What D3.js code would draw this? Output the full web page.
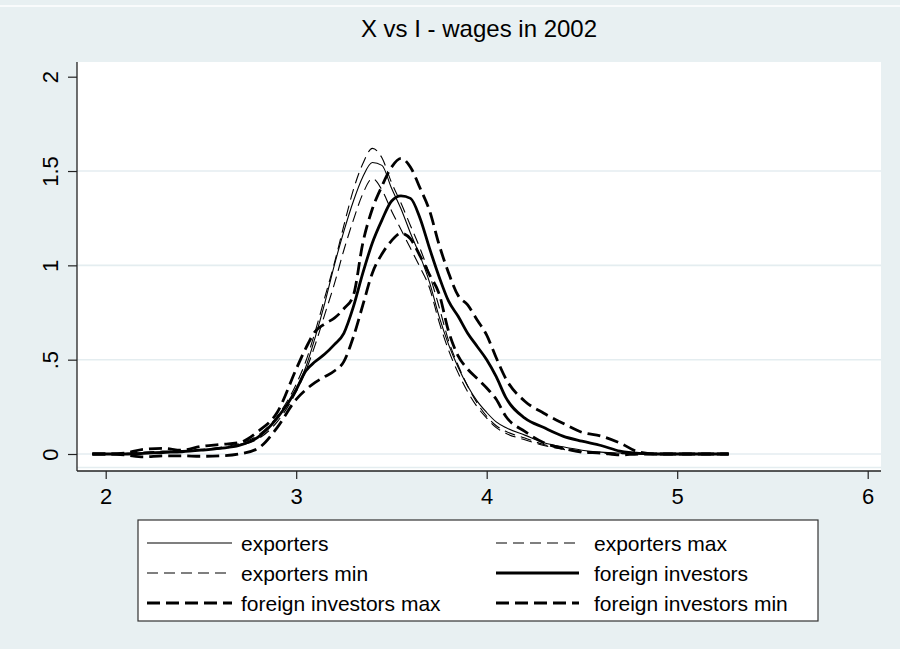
<!DOCTYPE html>
<html><head><meta charset="utf-8">
<script src="https://cdn.jsdelivr.net/npm/d3@7"></script>
<style>
body{margin:0;background:#e8f0f2}
svg{display:block}
text{font-family:Arial,"Liberation Sans",sans-serif;fill:#000}
</style>
</head><body>
<svg id="chart" width="900" height="649"></svg>
<script>
const title = "X vs I - wages in 2002";
const xGrid = [1.93, 2.0, 2.1, 2.2, 2.3, 2.4, 2.5, 2.6, 2.7, 2.8,
  2.9, 3.0, 3.05, 3.1, 3.15, 3.2, 3.25, 3.3, 3.35, 3.4,
  3.45, 3.5, 3.55, 3.6, 3.65, 3.7, 3.75, 3.8, 3.85, 3.9,
  3.95, 4.0, 4.05, 4.1, 4.2, 4.3, 4.4, 4.5, 4.6, 4.7,
  4.8, 4.9, 5.0, 5.1, 5.27];
const exporters = [0, 0, 0.002, 0.008, 0.012, 0.015, 0.022, 0.03, 0.05, 0.09,
  0.19, 0.35, 0.46, 0.62, 0.80, 1.0, 1.18, 1.34, 1.47, 1.545,
  1.53, 1.41, 1.30, 1.17, 1.05, 0.91, 0.73, 0.58, 0.46, 0.36,
  0.28, 0.22, 0.17, 0.14, 0.10, 0.06, 0.038, 0.02, 0.01, 0.005,
  0.002, 0.001, 0, 0, 0];
const exportersMax = [0, 0, 0.003, 0.01, 0.015, 0.018, 0.025, 0.035, 0.055, 0.10,
  0.20, 0.37, 0.49, 0.65, 0.83, 1.01, 1.21, 1.40, 1.54, 1.62,
  1.57, 1.44, 1.33, 1.21, 1.09, 0.95, 0.78, 0.60, 0.47, 0.36,
  0.27, 0.20, 0.15, 0.12, 0.085, 0.05, 0.03, 0.015, 0.008, 0.003,
  0.001, 0, 0, 0, 0];
const exportersMin = [0, 0, 0.002, 0.007, 0.01, 0.013, 0.02, 0.028, 0.045, 0.08,
  0.17, 0.33, 0.44, 0.58, 0.74, 0.90, 1.08, 1.24, 1.38, 1.46,
  1.40, 1.29, 1.19, 1.09, 0.99, 0.88, 0.70, 0.55, 0.43, 0.33,
  0.25, 0.19, 0.14, 0.11, 0.075, 0.045, 0.025, 0.012, 0.005, 0.002,
  0, 0, 0, 0, 0];
const foreignInv = [0, 0, 0, 0.003, 0.008, 0.012, 0.02, 0.03, 0.045, 0.09,
  0.19, 0.34, 0.44, 0.49, 0.53, 0.58, 0.64, 0.78, 0.96, 1.12,
  1.24, 1.34, 1.368, 1.355, 1.25, 1.09, 0.94, 0.81, 0.73, 0.64,
  0.57, 0.50, 0.41, 0.30, 0.19, 0.14, 0.095, 0.068, 0.045, 0.015,
  0.003, 0, 0, 0, 0];
const foreignMax = [0, 0, 0.005, 0.025, 0.03, 0.02, 0.04, 0.05, 0.06, 0.12,
  0.22, 0.45, 0.56, 0.65, 0.69, 0.72, 0.77, 0.84, 1.12, 1.30,
  1.42, 1.52, 1.567, 1.52, 1.41, 1.29, 1.11, 0.96, 0.84, 0.79,
  0.71, 0.63, 0.51, 0.40, 0.28, 0.216, 0.163, 0.115, 0.095, 0.058,
  0.01, 0, 0, 0, 0];
const foreignMin = [0, 0, -0.005, -0.015, -0.01, -0.01, -0.012, -0.01, 0.0, 0.03,
  0.14, 0.29, 0.34, 0.38, 0.41, 0.44, 0.49, 0.62, 0.79, 0.96,
  1.06, 1.13, 1.17, 1.14, 1.05, 0.95, 0.85, 0.65, 0.52, 0.45,
  0.40, 0.35, 0.29, 0.20, 0.12, 0.06, 0.03, 0.01, 0.005, -0.005,
  0, 0, 0, 0, 0];
const seriesNames = ["exporters", "exporters max", "exporters min",
  "foreign investors", "foreign investors max", "foreign investors min"];
const xTicks = [2, 3, 4, 5, 6];
const yTicks = [0, 0.5, 1, 1.5, 2];
const yTickLabels = ["0", ".5", "1", "1.5", "2"];
const gridValues = [0, 0.5, 1, 1.5];

const seriesValues = [exporters, exportersMax, exportersMin, foreignInv, foreignMax, foreignMin];
const styles = [
  {w: 1.1, dash: null},
  {w: 1.1, dash: "11,6"},
  {w: 1.1, dash: "11,6"},
  {w: 2.8, dash: null},
  {w: 2.8, dash: "13,6"},
  {w: 2.8, dash: "13,6"}
];

const svg = d3.select("#chart");
const W = 900, H = 649;
const plot = {l: 77, r: 881, t: 62, b: 471};
const x = d3.scaleLinear().domain([2, 6]).range([105.7, 867.7]);
const y = d3.scaleLinear().domain([0, 2]).range([454, 76.7]);
const bg = "#e8f0f2", grid = "#e4edf0";

svg.append("rect").attr("width", W).attr("height", H).attr("fill", bg);
svg.append("line").attr("x1", 0).attr("x2", W).attr("y1", 6).attr("y2", 6)
  .attr("stroke", "#fff").attr("stroke-width", 1.5);

svg.append("text").attr("x", (plot.l + plot.r) / 2).attr("y", 37)
  .attr("text-anchor", "middle").attr("font-size", 24).text(title);

svg.append("rect").attr("x", plot.l).attr("y", plot.t)
  .attr("width", plot.r - plot.l).attr("height", plot.b - plot.t).attr("fill", "#fff");

svg.append("g").selectAll("line").data(gridValues).join("line")
  .attr("x1", plot.l).attr("x2", plot.r)
  .attr("y1", d => y(d)).attr("y2", d => y(d))
  .attr("stroke", grid).attr("stroke-width", 1.6);
svg.append("line").attr("x1", plot.l).attr("x2", plot.r).attr("y1", 467.5).attr("y2", 467.5)
  .attr("stroke", grid).attr("stroke-width", 1.6);

// curves
const line = d3.line().x(d => x(d[0])).y(d => y(d[1])).curve(d3.curveMonotoneX);
const gC = svg.append("g");
seriesValues.forEach((vals, i) => {
  const pts = xGrid.map((xv, j) => [xv, vals[j]]);
  gC.append("path").attr("d", line(pts)).attr("fill", "none")
    .attr("stroke", "#000").attr("stroke-width", styles[i].w)
    .attr("stroke-dasharray", styles[i].dash)
    .attr("stroke-linejoin", "round");
});

// axes
const yAxis = d3.axisLeft(y).tickValues(yTicks).tickSize(9).tickSizeOuter(0)
  .tickFormat((d, i) => yTickLabels[i]);
const gy = svg.append("g").attr("transform", `translate(${plot.l},0)`).call(yAxis);
gy.select(".domain").remove();
gy.selectAll(".tick line").attr("stroke", "#222").attr("stroke-width", 1.2);
gy.selectAll(".tick text").attr("transform", "rotate(-90)")
  .attr("x", 0).attr("y", -19).attr("dy", 0).attr("text-anchor", "middle")
  .attr("font-size", 22).attr("font-family", "Arial, 'Liberation Sans', sans-serif").attr("fill", "#000");

const xAxis = d3.axisBottom(x).tickValues(xTicks).tickSize(8).tickSizeOuter(0)
  .tickFormat(d3.format("d"));
const gx = svg.append("g").attr("transform", `translate(0,${plot.b})`).call(xAxis);
gx.select(".domain").remove();
gx.selectAll(".tick line").attr("stroke", "#222").attr("stroke-width", 1.2);
gx.selectAll(".tick text").attr("y", 33).attr("dy", 0)
  .attr("font-size", 22).attr("font-family", "Arial, 'Liberation Sans', sans-serif").attr("fill", "#000");

svg.append("line").attr("x1", plot.l).attr("x2", plot.l).attr("y1", plot.t).attr("y2", plot.b)
  .attr("stroke", "#222").attr("stroke-width", 1.3);
svg.append("line").attr("x1", plot.l).attr("x2", plot.r).attr("y1", plot.b).attr("y2", plot.b)
  .attr("stroke", "#222").attr("stroke-width", 1.3);

// legend
const leg = {l: 138, r: 818, t: 520, b: 621};
svg.append("rect").attr("x", leg.l).attr("y", leg.t).attr("width", leg.r - leg.l)
  .attr("height", leg.b - leg.t).attr("fill", "#fff").attr("stroke", "#333").attr("stroke-width", 1.2);
const colX = [{s: 147, e: 232, t: 241}, {s: 496, e: 579, t: 594}];
const rowY = [543, 573, 603];
seriesNames.forEach((name, i) => {
  const c = colX[i % 2], r = rowY[Math.floor(i / 2)];
  svg.append("line").attr("x1", c.s).attr("x2", c.e).attr("y1", r).attr("y2", r)
    .attr("stroke", "#000").attr("stroke-width", styles[i].w)
    .attr("stroke-dasharray", styles[i].dash);
  svg.append("text").attr("x", c.t).attr("y", r + 7.5).attr("font-size", 21).text(name);
});
</script>
</body></html>
